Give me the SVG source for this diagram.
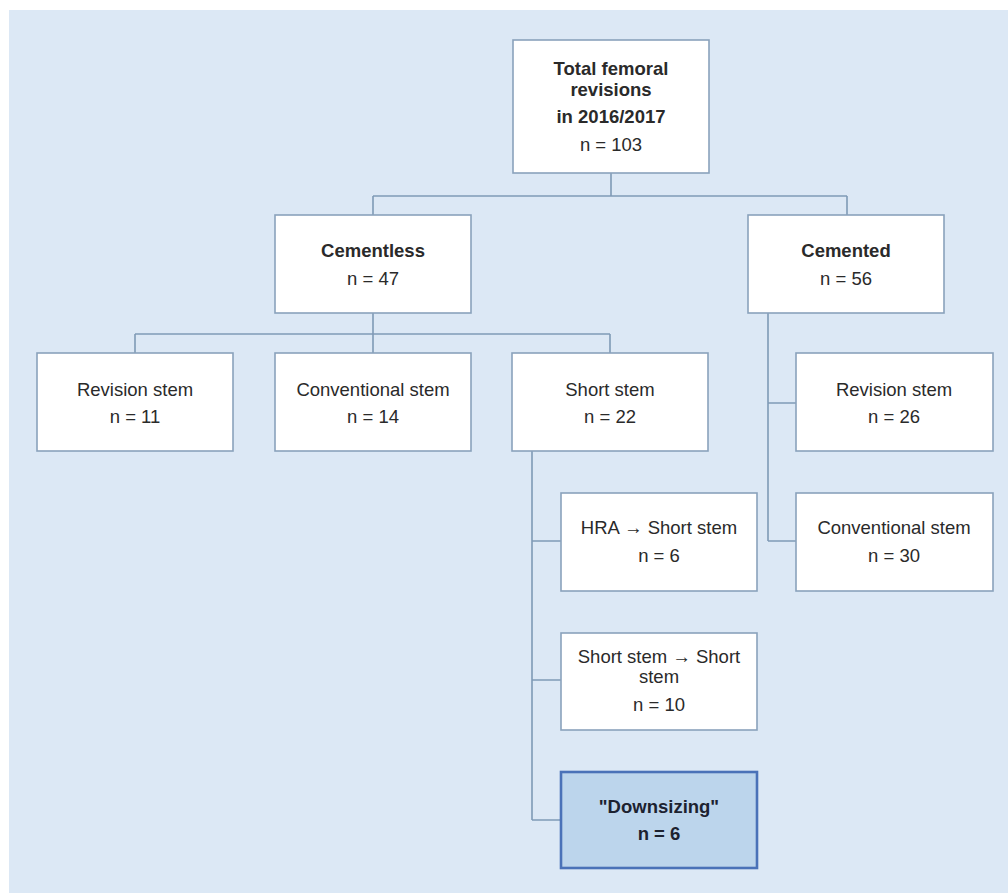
<svg xmlns="http://www.w3.org/2000/svg" width="1008" height="893" viewBox="0 0 1008 893">
<style>
.bg{fill:#dce8f5}
.box{fill:#ffffff;stroke:#8aa2bc;stroke-width:1.6}
.hl{fill:#bcd5ec;stroke:#4a72b8;stroke-width:2.6}
.ln{fill:none;stroke:#7f9ab6;stroke-width:1.6}
text{font-family:"Liberation Sans",Arial,sans-serif;font-size:18.5px;fill:#2a2a2a;text-anchor:middle}
.b{font-weight:bold}
</style>
<rect x="0" y="0" width="1008" height="893" fill="#ffffff"/>
<rect class="bg" x="9" y="10" width="999" height="883"/>
<g id="connectors">
<path class="ln" d="M611,173 V196 M373,196 H847 M373,196 V215 M847,196 V215"/>
<path class="ln" d="M373,313 V353 M135,334 H610 M135,334 V353 M610,334 V353"/>
<path class="ln" d="M768,313 V541 M768,403 H796 M768,541 H796"/>
<path class="ln" d="M532,451 V820 M532,541 H561 M532,680 H561 M532,820 H561"/>
</g>
<g id="total">
<rect class="box" x="513" y="40" width="196" height="133"/>
<text class="b" x="611" y="75">Total femoral</text>
<text class="b" x="611" y="96">revisions</text>
<text class="b" x="611" y="123">in 2016/2017</text>
<text x="611" y="151">n = 103</text>
</g>
<g id="cementless">
<rect class="box" x="275" y="215" width="196" height="98"/>
<text class="b" x="373" y="257">Cementless</text>
<text x="373" y="285">n = 47</text>
</g>
<g id="cemented">
<rect class="box" x="748" y="215" width="196" height="98"/>
<text class="b" x="846" y="257">Cemented</text>
<text x="846" y="285">n = 56</text>
</g>
<g id="revision-stem-left">
<rect class="box" x="37" y="353" width="196" height="98"/>
<text x="135" y="396">Revision stem</text>
<text x="135" y="423">n = 11</text>
</g>
<g id="conventional-stem-left">
<rect class="box" x="275" y="353" width="196" height="98"/>
<text x="373" y="396">Conventional stem</text>
<text x="373" y="423">n = 14</text>
</g>
<g id="short-stem">
<rect class="box" x="512" y="353" width="196" height="98"/>
<text x="610" y="396">Short stem</text>
<text x="610" y="423">n = 22</text>
</g>
<g id="revision-stem-right">
<rect class="box" x="796" y="353" width="197" height="98"/>
<text x="894" y="396">Revision stem</text>
<text x="894" y="423">n = 26</text>
</g>
<g id="conventional-stem-right">
<rect class="box" x="796" y="493" width="197" height="98"/>
<text x="894" y="534">Conventional stem</text>
<text x="894" y="562">n = 30</text>
</g>
<g id="hra-short">
<rect class="box" x="561" y="493" width="196" height="98"/>
<text x="659" y="534">HRA → Short stem</text>
<text x="659" y="562">n = 6</text>
</g>
<g id="short-short">
<rect class="box" x="561" y="633" width="196" height="97"/>
<text x="659" y="663">Short stem → Short</text>
<text x="659" y="683">stem</text>
<text x="659" y="711">n = 10</text>
</g>
<g id="downsizing">
<rect class="hl" x="561" y="772" width="196" height="96"/>
<text class="b" x="659" y="813" style="fill:#1c2230">"Downsizing"</text>
<text class="b" x="659" y="840" style="fill:#1c2230">n = 6</text>
</g>
</svg>
